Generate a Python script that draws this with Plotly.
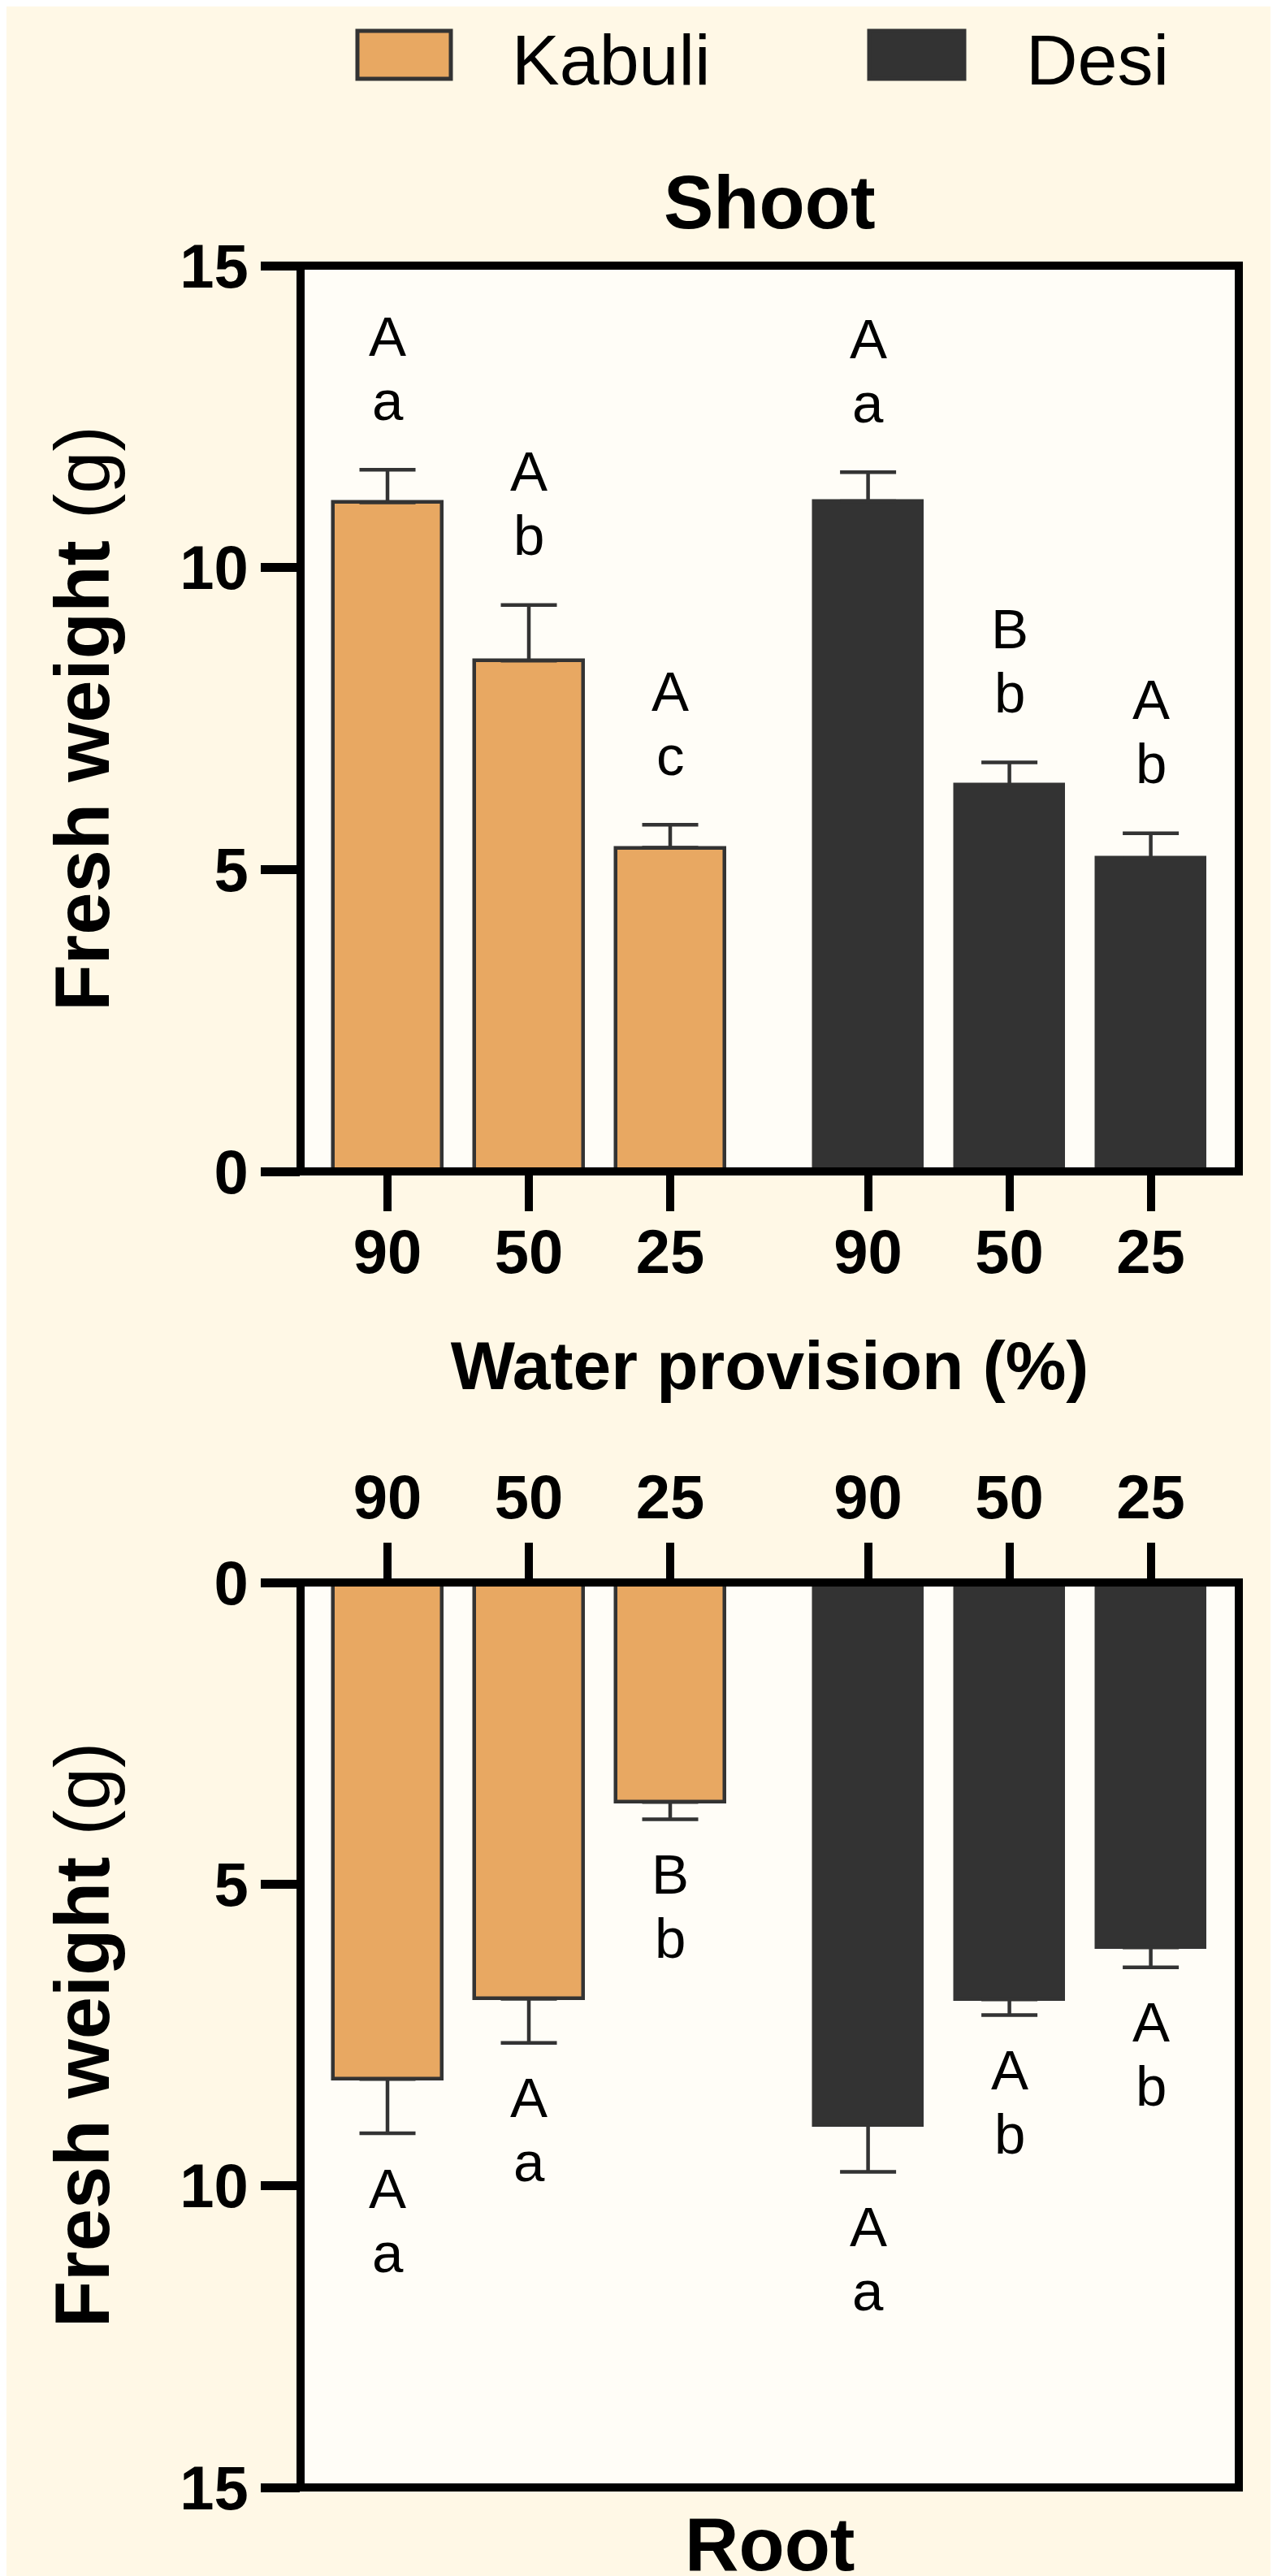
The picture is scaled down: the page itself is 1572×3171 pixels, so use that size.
import plotly.graph_objects as go

# ---------------- data ----------------
groups = ["Kabuli", "Desi"]
levels = ["90", "50", "25"]
x_kabuli = [0.0, 1.0, 2.0]
x_desi = [3.4, 4.4, 5.4]

shoot_kabuli = [11.08, 8.46, 5.36]
shoot_kabuli_err = [0.54, 0.92, 0.38]
shoot_desi = [11.10, 6.40, 5.19]
shoot_desi_err = [0.48, 0.375, 0.41]

root_kabuli = [8.23, 6.90, 3.64]
root_kabuli_err = [0.90, 0.73, 0.285]
root_desi = [8.99, 6.91, 6.05]
root_desi_err = [0.78, 0.26, 0.33]

shoot_letters_kabuli = [("A", "a"), ("A", "b"), ("A", "c")]
shoot_letters_desi = [("A", "a"), ("B", "b"), ("A", "b")]
root_letters_kabuli = [("A", "a"), ("A", "a"), ("B", "b")]
root_letters_desi = [("A", "a"), ("A", "b"), ("A", "b")]

y_ticks = [0, 5, 10, 15]

# ---------------- style ----------------
W, H = 1572, 3171
OFF = 8                      # page offset of the figure inside the browser
ML = 370 - OFF
MR = W - (1525 - OFF)
PW = W - ML - MR
FONT = "Liberation Sans, Arial, sans-serif"
KAB = "#E8A862"
DES = "#333333"
EDGE = "#333333"
PAPER = "#FFF8E6"
PLOT = "#FFFDF7"


def px_x(p):
    return (p - OFF - ML) / PW


def px_y(p):
    return 1 - (p - OFF) / H


fig = go.Figure()


def add_bars(x, y, err, color, xa, ya, name):
    fig.add_trace(go.Bar(
        x=x, y=y, width=0.765, name=name, showlegend=False,
        marker=dict(color=color, line=dict(color=EDGE, width=4.5)),
        error_y=dict(type="data", symmetric=False, array=err,
                     arrayminus=[0] * len(err), color=EDGE,
                     thickness=4.5, width=34.5),
        xaxis=xa, yaxis=ya,
    ))


add_bars(x_kabuli, shoot_kabuli, shoot_kabuli_err, KAB, "x", "y", "Kabuli")
add_bars(x_desi, shoot_desi, shoot_desi_err, DES, "x", "y", "Desi")
add_bars(x_kabuli, root_kabuli, root_kabuli_err, KAB, "x2", "y2", "Kabuli")
add_bars(x_desi, root_desi, root_desi_err, DES, "x2", "y2", "Desi")

annotations = []
letter_font = dict(family=FONT, size=69, color="black")


def add_letters(xs, ys, errs, letters, xref, yref, shifts):
    for xv, yv, ev, (up, low) in zip(xs, ys, errs, letters):
        for txt, sh in zip((up, low), shifts):
            annotations.append(dict(
                x=xv, y=yv + ev, xref=xref, yref=yref, text=txt,
                showarrow=False, yanchor="middle", xanchor="center",
                yshift=sh, font=letter_font))


add_letters(x_kabuli, shoot_kabuli, shoot_kabuli_err, shoot_letters_kabuli, "x", "y", (164, 85))
add_letters(x_desi, shoot_desi, shoot_desi_err, shoot_letters_desi, "x", "y", (164, 85))
add_letters(x_kabuli, root_kabuli, root_kabuli_err, root_letters_kabuli, "x2", "y2", (-68, -147))
add_letters(x_desi, root_desi, root_desi_err, root_letters_desi, "x2", "y2", (-68, -147))

# panel titles
annotations.append(dict(x=0.5, y=px_y(249), xref="paper", yref="paper",
                        text="<b>Shoot</b>", showarrow=False, yanchor="middle",
                        font=dict(family=FONT, size=92, color="black")))
annotations.append(dict(x=0.5, y=px_y(3132), xref="paper", yref="paper",
                        text="<b>Root</b>", showarrow=False, yanchor="middle",
                        font=dict(family=FONT, size=92, color="black")))

# legend (drawn manually for large swatches)
legend_items = [(groups[0], KAB, 440, 555, 628), (groups[1], DES, 1070, 1187, 1261)]
shapes = []
for name, col, sx0, sx1, tx in legend_items:
    shapes.append(dict(type="rect", xref="paper", yref="paper",
                       x0=px_x(sx0), x1=px_x(sx1), y0=px_y(97), y1=px_y(38),
                       fillcolor=col, line=dict(color=EDGE, width=5)))
    annotations.append(dict(x=px_x(tx), y=px_y(73), xref="paper", yref="paper",
                            text=name, showarrow=False, xanchor="left", yanchor="middle",
                            font=dict(family=FONT, size=88, color="black")))

# frames around each panel
for xr, yr in (("x domain", "y domain"), ("x2 domain", "y2 domain")):
    shapes.append(dict(type="rect", xref=xr, yref=yr, x0=0, x1=1, y0=0, y1=1,
                       line=dict(color="black", width=10), layer="above"))

tick_vals = x_kabuli + x_desi
tick_text = levels + levels
tickfont = dict(family=FONT, size=76, color="black", weight="bold")
xrange = [-0.615, 6.023]

common_x = dict(range=xrange, tickvals=tick_vals, ticktext=tick_text,
                ticks="outside", ticklen=48, tickwidth=10, tickcolor="black",
                showline=False, showgrid=False, zeroline=False, tickfont=tickfont,
                automargin=False)
common_y = dict(tickvals=y_ticks, ticks="outside", ticklen=48, tickwidth=11,
                tickcolor="black", showline=False, showgrid=False, zeroline=False,
                tickfont=tickfont, automargin=False)

fig.update_layout(
    template="none",
    width=W, height=H, autosize=False,
    margin=dict(l=ML, r=MR, t=0, b=0, pad=0),
    paper_bgcolor=PAPER, plot_bgcolor=PLOT,
    font=dict(family=FONT, color="black"),
    showlegend=False, bargap=0,
    xaxis=dict(domain=[0, 1], anchor="y", side="bottom", ticklabelstandoff=-15,
               title=dict(text="<b>Water provision (%)</b>", standoff=68,
                          font=dict(family=FONT, size=84, color="black")),
               **common_x),
    yaxis=dict(domain=[px_y(1442), px_y(327)], anchor="x", range=[0, 15],
               title=dict(text="<b>Fresh weight</b> (g)", standoff=55,
                          font=dict(family=FONT, size=94, color="black")),
               **common_y),
    xaxis2=dict(domain=[0, 1], anchor="y2", side="top", **common_x),
    yaxis2=dict(domain=[px_y(3062), px_y(1948)], anchor="x2", range=[15, 0],
                title=dict(text="<b>Fresh weight</b> (g)", standoff=55,
                           font=dict(family=FONT, size=94, color="black")),
                **common_y),
    annotations=annotations,
    shapes=shapes,
)

fig.write_html("out.html")
